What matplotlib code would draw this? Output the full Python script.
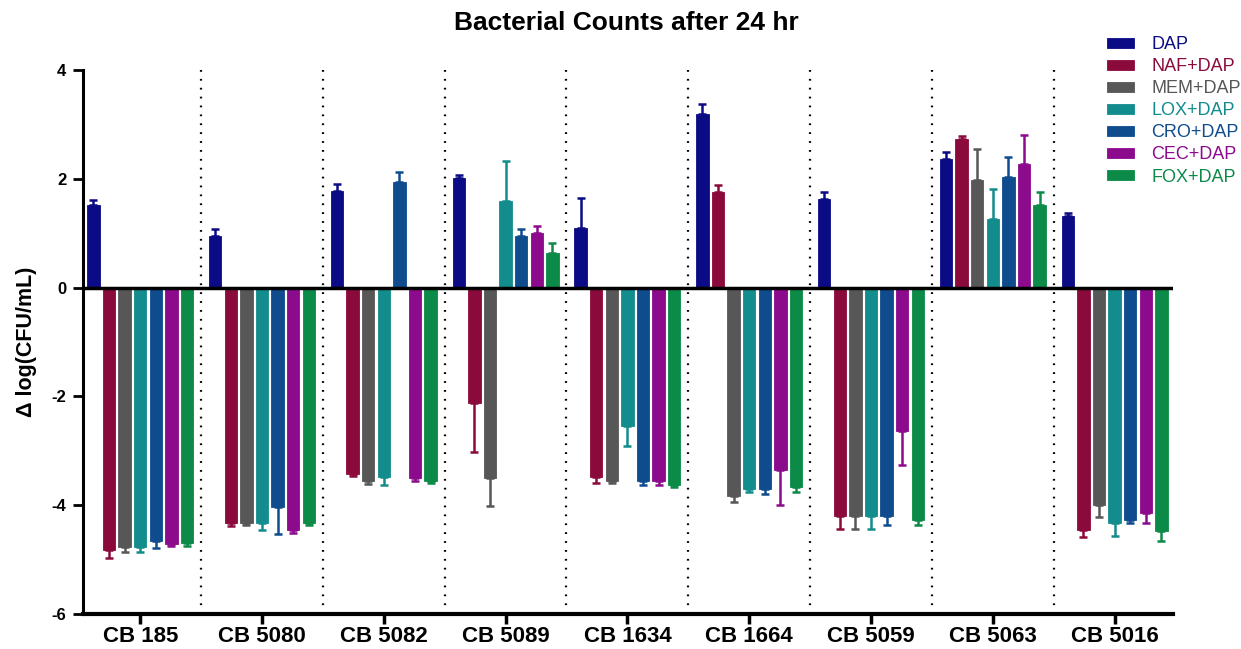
import matplotlib
matplotlib.use("Agg")
import matplotlib.pyplot as plt
import numpy as np

plt.rcParams['font.family'] = ['Liberation Sans', 'DejaVu Sans']

groups = ['CB 185', 'CB 5080', 'CB 5082', 'CB 5089', 'CB 1634',
          'CB 1664', 'CB 5059', 'CB 5063', 'CB 5016']
series = ['DAP', 'NAF+DAP', 'MEM+DAP', 'LOX+DAP', 'CRO+DAP', 'CEC+DAP', 'FOX+DAP']
colors = ['#0B0B85', '#8B0A3C', '#575757', '#128C8C', '#0E4C8E', '#8C0A8C', '#0C8A48']

DAP = [1.52, 0.95, 1.78, 2.01, 1.09, 3.20, 1.63, 2.37, 1.32]
DAP_err = [0.09, 0.13, 0.13, 0.06, 0.56, 0.17, 0.13, 0.13, 0.05]
NAF = [-4.82, -4.33, -3.42, -2.13, -3.48, 1.75, -4.19, 2.74, -4.45]
NAF_err = [0.15, 0.05, 0.05, 0.90, 0.11, 0.13, 0.24, 0.05, 0.13]
MEM = [-4.76, -4.32, -3.56, -3.50, -3.55, -3.84, -4.20, 1.97, -3.99]
MEM_err = [0.10, 0.04, 0.05, 0.52, 0.04, 0.10, 0.23, 0.58, 0.23]
LOX = [-4.76, -4.33, -3.48, 1.60, -2.54, -3.71, -4.19, 1.27, -4.33]
LOX_err = [0.10, 0.13, 0.15, 0.73, 0.37, 0.04, 0.24, 0.54, 0.23]
CRO = [-4.65, -4.04, 1.94, 0.95, -3.55, -3.70, -4.20, 2.03, -4.28]
CRO_err = [0.13, 0.49, 0.18, 0.13, 0.08, 0.10, 0.17, 0.37, 0.04]
CEC = [-4.71, -4.46, -3.50, 1.00, -3.55, -3.35, -2.63, 2.28, -4.14]
CEC_err = [0.04, 0.05, 0.06, 0.14, 0.08, 0.64, 0.64, 0.53, 0.18]
FOX = [-4.69, -4.32, -3.55, 0.63, -3.63, -3.67, -4.28, 1.52, -4.48]
FOX_err = [0.06, 0.04, 0.04, 0.19, 0.03, 0.09, 0.09, 0.24, 0.18]

yticks = [-6, -4, -2, 0, 2, 4]
ytick_labels = ['-6', '-4', '-2', '0', '2', '4']

means = [DAP, NAF, MEM, LOX, CRO, CEC, FOX]
errs = [DAP_err, NAF_err, MEM_err, LOX_err, CRO_err, CEC_err, FOX_err]

fig = plt.figure(figsize=(12.41, 6.49), dpi=100)
ax = fig.add_axes([83/1241, 1-614/649, (1173-83)/1241, (614-70)/649])

x = np.arange(len(groups))
pitch = 0.128
width = 0.102
handles = []
for j, (m, e, c, name) in enumerate(zip(means, errs, colors, series)):
    m = np.array(m); e = np.array(e)
    xpos = x + (j - 3) * pitch
    b = ax.bar(xpos, m, width=width, color=c, edgecolor=c, linewidth=0.6,
               label=name, zorder=2)
    handles.append(b)
    lower = np.where(m < 0, e, 0)
    upper = np.where(m >= 0, e, 0)
    ax.errorbar(xpos, m, yerr=[lower, upper], fmt='none', ecolor=c,
                elinewidth=1.8, capsize=2.6, capthick=1.8, zorder=3)

for i in range(len(groups) - 1):
    ax.plot([i + 0.5, i + 0.5], [-6, 4], color='black', lw=1.6,
            linestyle=(0, (0.8, 3.2)), zorder=1)

ax.axhline(0, color='black', lw=2.5, zorder=4)

ax.set_xlim(-0.47, 8.48)
ax.set_ylim(-6, 4)
ax.set_yticks(yticks)
ax.set_yticklabels(ytick_labels, fontsize=12, fontweight='bold')
ax.set_xticks(x)
ax.set_xticklabels(groups, fontsize=16, fontweight='bold')
ax.tick_params(axis='y', length=7, width=2, pad=5)
ax.tick_params(axis='x', length=7, width=2.5, pad=2)
for s in ['top', 'right']:
    ax.spines[s].set_visible(False)
ax.spines['left'].set_linewidth(2.2)
ax.spines['bottom'].set_linewidth(3)

ax.set_ylabel('Δ log(CFU/mL)', fontsize=15.5, fontweight='bold')
ax.yaxis.set_label_coords(-(83 - 37) / (1173 - 83), 0.5)
fig.text(0.505, 1-23/649, 'Bacterial Counts after 24 hr', ha='center', va='center',
         fontsize=19, fontweight='bold')

leg = fig.legend(handles=handles, labels=series, loc='upper left',
                 bbox_to_anchor=(1100/1241, 1-29/649), frameon=False,
                 fontsize=13, handlelength=1.5, handleheight=0.5,
                 labelspacing=0.28, handletextpad=0.95, borderaxespad=0)
for t, c in zip(leg.get_texts(), colors):
    t.set_color(c)

fig.savefig('out.png', dpi=100)
